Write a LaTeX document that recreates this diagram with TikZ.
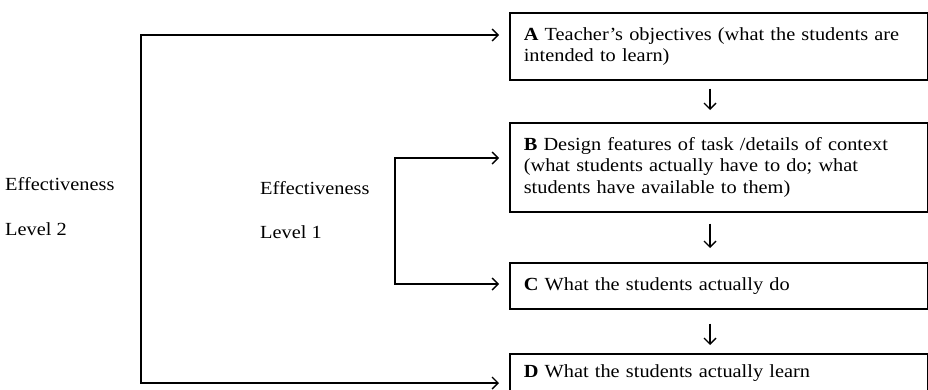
\documentclass[tikz,border=0pt]{standalone}
\usepackage{fontspec}
\setmainfont{Liberation Serif}[FakeStretch=1.1]
\usetikzlibrary{arrows.meta}
\begin{document}
\begin{tikzpicture}[x=1pt,y=-1pt,
  txt/.style={font=\fontsize{18.5}{21.5}\selectfont},
  box/.style={txt, draw, line width=1.6pt, anchor=north west, text width=390pt,
    inner xsep=14pt, inner ysep=0pt, align=left},
  lbl/.style={txt, anchor=base west, inner sep=0pt},
  arr/.style={line width=1.4pt, -{Straight Barb[length=6pt,width=12pt]}},
  arrb/.style={line width=1.4pt, {Straight Barb[length=6pt,width=12pt]}-{Straight Barb[length=6pt,width=12pt]}}]
\useasboundingbox (0,0) rectangle (928,389);
\node[box, minimum height=67pt] (A) at (509,12)
  {\textbf{A} Teacher's objectives (what the students are\\ intended to learn)};
\node[box, minimum height=89pt] (B) at (509,122)
  {\textbf{B} Design features of task /details of context\\ (what students actually have to do; what\\ students have available to them)};
\node[box, minimum height=46pt] (C) at (509,262)
  {\textbf{C} What the students actually do};
\node[box, minimum height=38pt] (D) at (509,353)
  {\textbf{D} What the students actually learn};
\coordinate (ax) at (710,0);
\draw[arr, shorten <=8pt, shorten >=12pt] (A.south -| ax) -- (B.north -| ax);
\draw[arr, shorten <=11pt, shorten >=14pt] (B.south -| ax) -- (C.north -| ax);
\draw[arr, shorten <=14pt, shorten >=8pt] (C.south -| ax) -- (D.north -| ax);
\coordinate (t2) at (141,35);
\coordinate (b2) at (141,383);
\coordinate (t1) at (395,158);
\coordinate (b1) at (395,284);
\draw[arrb, shorten <=10pt, shorten >=10pt] (A.west |- t2) -- (t2) -- (b2) -- (D.west |- b2);
\draw[arrb, shorten <=10pt, shorten >=10pt] (B.west |- t1) -- (t1) -- (b1) -- (C.west |- b1);
\node[lbl] (e2) at (5,190) {Effectiveness};
\node[lbl] (l2) at (5,235) {Level 2};
\node[lbl] (e1) at (260,194) {Effectiveness};
\node[lbl] (l1) at (260,238) {Level 1};
\end{tikzpicture}
\end{document}
